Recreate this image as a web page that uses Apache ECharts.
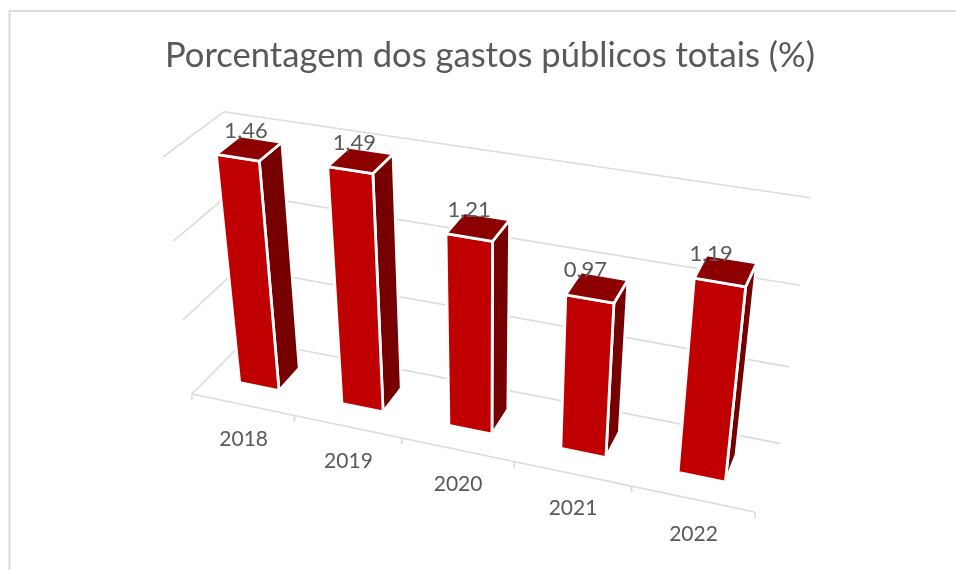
<!DOCTYPE html>
<html>
<head>
<meta charset="utf-8">
<style>
  html, body { margin: 0; padding: 0; background: #fff; }
  #chart { width: 956px; height: 570px; }
</style>
<script src="https://cdn.jsdelivr.net/npm/echarts@6/dist/echarts.min.js"></script>
</head>
<body>
<div id="chart"></div>
<script>
var categories = ['2018', '2019', '2020', '2021', '2022'];
var gastos = [1.46, 1.49, 1.21, 0.97, 1.19];
var valueTicks = [0, 0.5, 1, 1.5];

var fontName = 'Lato';
var textColor = '#595959';
var lineColor = '#dcdcdc';

// hidden cartesian grid: the front plane of the 3D box before projection
var plot = { left: 192, top: 157, width: 563, height: 237 };

// perspective of the box, u = along categories, v = up, w = depth (all 0..1)
var origin = [192, 394];
var endU = [755, 512];
var endV = [163, 157];
var endW = [245.8, 339.2];
var persp = { u: -0.11, v: -0.09, w: 0.06 };

var barShare = 0.39;   // bar width in a category band
var depthFront = 0.31;
var depthBack = 0.71;

function project(u, v, w) {
    var d = 1 + persp.u * u + persp.v * v + persp.w * w;
    var xy = [0, 1].map(function (k) {
        return (origin[k]
            + u * ((1 + persp.u) * endU[k] - origin[k])
            + v * ((1 + persp.v) * endV[k] - origin[k])
            + w * ((1 + persp.w) * endW[k] - origin[k])) / d;
    });
    return xy;
}

function toU(px) { return (px - plot.left) / plot.width; }
function toV(py) { return (plot.top + plot.height - py) / plot.height; }

function line(a, b, z) {
    return {
        type: 'line',
        shape: { x1: a[0], y1: a[1], x2: b[0], y2: b[1] },
        style: { stroke: lineColor, lineWidth: 1.6, fill: null },
        z2: z || 0
    };
}

function face(points, color) {
    return {
        type: 'polygon',
        shape: { points: points },
        style: { fill: color, stroke: '#fff', lineWidth: 2.8, lineJoin: 'round' }
    };
}

function text(str, x, y, size) {
    return {
        type: 'text',
        z2: 10,
        style: {
            text: str, x: x, y: y, fill: textColor,
            font: size + 'px ' + fontName,
            align: 'center', verticalAlign: 'middle'
        }
    };
}

// back wall and left wall lines
function renderWalls(params, api) {
    var v = toV(api.coord([0, api.value(0)])[1]);
    return {
        type: 'group',
        children: [
            line(project(0, v, 0), project(0, v, 1)),
            line(project(0, v, 1), project(1, v, 1))
        ]
    };
}

// front edge of the floor with its ticks and the year labels
function renderFloor(params, api) {
    var band = api.size([1, 0])[0];
    var mid = toU(api.coord([api.value(0), 0])[0]);
    var half = band / plot.width / 2;
    var left = project(mid - half, 0, 0);
    var right = project(mid + half, 0, 0);
    var center = project(mid, 0, 0);
    var kids = [
        line(left, right),
        line(left, [left[0], left[1] + 6]),
        line(right, [right[0], right[1] + 6]),
        text(categories[api.value(0)], center[0] + 1, center[1] + 35, 21)
    ];
    return { type: 'group', children: kids };
}

function renderBar(params, api) {
    var i = api.value(0);
    var c = api.coord([i, api.value(1)]);
    var halfU = api.size([1, 0])[0] * barShare / plot.width / 2;
    var mid = toU(c[0]);
    var u0 = mid - halfU, u1 = mid + halfU, top = toV(c[1]);
    var w0 = depthFront, w1 = depthBack;

    var front = [project(u0, 0, w0), project(u1, 0, w0), project(u1, top, w0), project(u0, top, w0)];
    var side = [project(u1, 0, w0), project(u1, 0, w1), project(u1, top, w1), project(u1, top, w0)];
    var lid = [project(u0, top, w0), project(u1, top, w0), project(u1, top, w1), project(u0, top, w1)];
    var labelAt = project(mid, top, (w0 + w1) / 2);

    return {
        type: 'group',
        children: [
            face(side, '#760000'),
            face(front, '#c00000'),
            face(lid, '#8c0000'),
            text(api.value(1).toFixed(2).replace('.', ','), labelAt[0] - 2 - 14 * mid, labelAt[1] - 17, 22)
        ]
    };
}

var chart = echarts.init(document.getElementById('chart'));
chart.setOption({
    animation: false,
    backgroundColor: '#fff',
    title: {
        text: 'Porcentagem dos gastos públicos totais (%)',
        left: 160,
        top: 33,
        textStyle: { fontFamily: fontName, fontWeight: 'normal', fontSize: 34.6, color: textColor }
    },
    graphic: [{
        type: 'polyline',
        shape: { points: [[9.5, 570], [9.5, 11], [956, 11]] },
        style: { stroke: lineColor, lineWidth: 2, fill: null }
    }],
    grid: { left: plot.left, top: plot.top, width: plot.width, height: plot.height },
    xAxis: { type: 'category', data: categories, show: false },
    yAxis: { type: 'value', min: 0, max: 1.5, interval: 0.5, show: false },
    series: [
        {
            type: 'custom',
            coordinateSystem: 'cartesian2d',
            clip: false,
            silent: true,
            z: 1,
            renderItem: renderWalls,
            data: valueTicks.map(function (t) { return [t]; }),
            encode: { y: 0 }
        },
        {
            type: 'custom',
            coordinateSystem: 'cartesian2d',
            clip: false,
            silent: true,
            z: 2,
            renderItem: renderFloor,
            data: categories.map(function (c, i) { return [i]; }),
            encode: { x: 0 }
        },
        {
            type: 'custom',
            coordinateSystem: 'cartesian2d',
            clip: false,
            silent: true,
            z: 3,
            renderItem: renderBar,
            data: gastos.map(function (g, i) { return [i, g]; }),
            encode: { x: 0, y: 1 }
        }
    ]
});
</script>
</body>
</html>
